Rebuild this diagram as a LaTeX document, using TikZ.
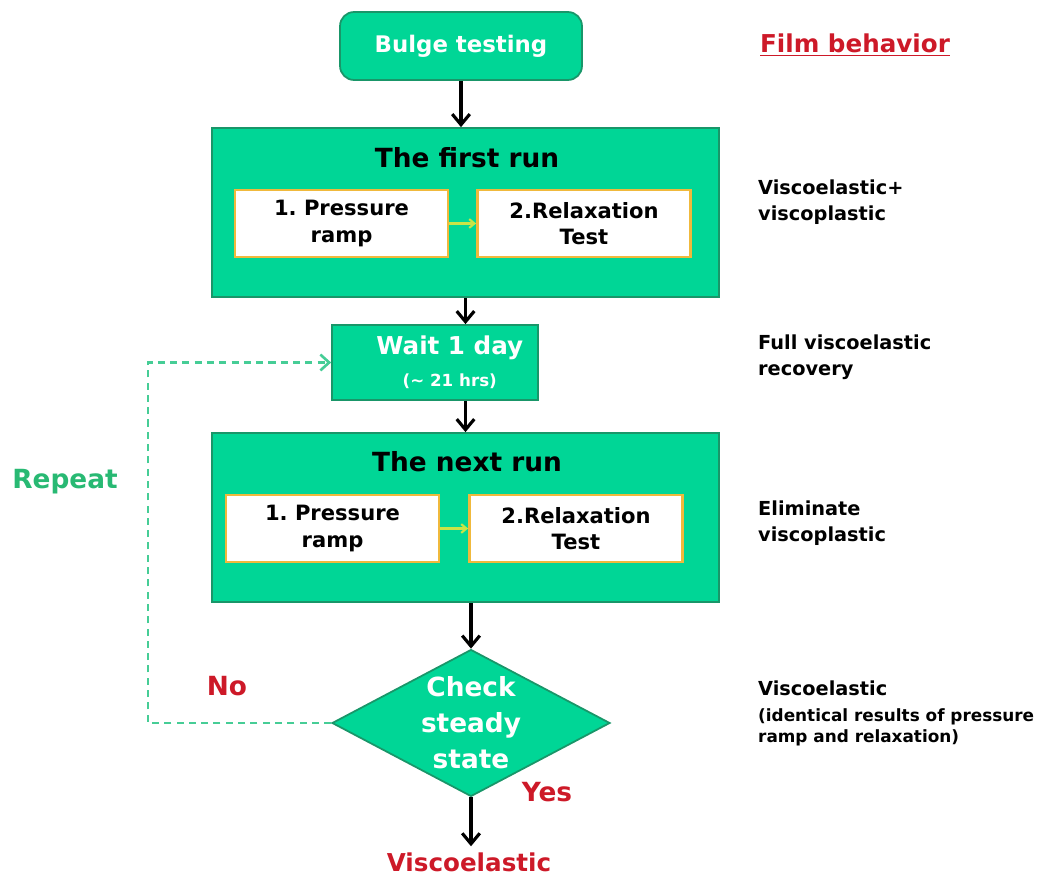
\documentclass[tikz,border=0pt]{standalone}
\usepackage{fontspec}
\setmainfont{DejaVu Sans}
\usetikzlibrary{shapes.geometric,arrows.meta}
\definecolor{boxgreen}{RGB}{0,214,150}
\definecolor{edgegreen}{RGB}{25,150,105}
\definecolor{loopgreen}{RGB}{70,205,150}
\definecolor{repeatgreen}{RGB}{40,185,115}
\definecolor{labelred}{RGB}{205,25,40}
\definecolor{rimorange}{RGB}{240,185,60}
\definecolor{stepyellow}{RGB}{200,228,70}
\frenchspacing

\begin{document}
\begin{tikzpicture}[
    x=0.02cm, y=-0.02cm,
    font=\bfseries,
    stage/.style={rectangle, draw=edgegreen, line width=1pt, fill=boxgreen, text=white, align=center},
    runbox/.style={stage, minimum width=10.14cm, minimum height=3.38cm},
    stepbox/.style={rectangle, draw=rimorange, line width=1.6pt, fill=white, minimum width=4.26cm, minimum height=1.34cm, align=center, inner sep=1pt, font=\fontsize{12}{15}\selectfont\bfseries},
    decision/.style={diamond, draw=edgegreen, line width=1pt, fill=boxgreen, minimum width=5.56cm, minimum height=2.94cm, inner sep=0pt},
    title/.style={font=\fontsize{15}{17}\selectfont\bfseries},
    behavior/.style={anchor=west, align=left, font=\fontsize{11}{15}\selectfont\bfseries},
    answer/.style={text=labelred, font=\fontsize{15}{17}\selectfont\bfseries},
    arrow/.style={-{Straight Barb[length=6pt,width=10pt]}, line width=1.8pt, black},
    steparrow/.style={-{Straight Barb[length=3pt,width=5pt]}, line width=1.2pt, stepyellow},
    loopline/.style={-{Straight Barb[length=5pt,width=9pt]}, line width=1.5pt, loopgreen, dash pattern=on 4pt off 3pt}
]
    \useasboundingbox (0,0) rectangle (1062,878);

    % main column
    \node[stage, rounded corners=8pt, minimum width=4.84cm, minimum height=1.36cm,
          font=\fontsize{13}{15}\selectfont\bfseries] (bulge) at (461,46) {Bulge testing};

    \node[runbox] (firstrun) at (465.5,212.5) {};
    \node[title] (firsttitle) at (467,158) {The first run};
    \node[stepbox] (ramp1) at (341.5,223.5) {1. Pressure\\ramp};
    \node[stepbox] (relax1) at (584,223.5) {2.Relaxation\\Test};

    \node[stage, minimum width=4.12cm, minimum height=1.5cm, font=\fontsize{14}{16}\selectfont\bfseries] (wait) at (435,362.5)
        {\hspace*{1.2em}Wait 1 day\\[2pt]\hspace*{1.2em}{\fontsize{9.5}{10}\selectfont(\textasciitilde{} 21 hrs)}};

    \node[runbox] (nextrun) at (465.5,517.5) {};
    \node[title] (nexttitle) at (467,462) {The next run};
    \node[stepbox] (ramp2) at (332.5,528.5) {1. Pressure\\ramp};
    \node[stepbox] (relax2) at (576,528.5) {2.Relaxation\\Test};

    \node[decision] (check) at (471,723) {};
    \node[text=white, align=center, font=\fontsize{15}{20.5}\selectfont\bfseries] (checktext) at (check) {Check\\steady\\state};

    \node[text=labelred, font=\fontsize{14}{16}\selectfont\bfseries] (result) at (469,862) {Viscoelastic};

    % connectors
    \draw[arrow] (bulge.south) -- (bulge.south |- firstrun.north);
    \draw[steparrow] (ramp1.east) -- (relax1.west);
    \draw[arrow] (firstrun.south) -- (firstrun.south |- wait.north);
    \draw[arrow] (nextrun.north |- wait.south) -- (nextrun.north);
    \draw[steparrow] (ramp2.east) -- (relax2.west);
    \draw[arrow] (check.north |- nextrun.south) -- (check.north);
    \draw[arrow] (check.south) -- (check.south |- result.north);

    % repeat loop
    \coordinate (loopx) at (148,540);
    \draw[loopline] (check.west) -| (loopx) |- (wait.west);
    \node[text=repeatgreen, font=\fontsize{15}{17}\selectfont\bfseries] (repeat) at (65,482) {Repeat};
    \node[answer] (no) at (227,686) {No};
    \node[answer] (yes) at (547,792) {Yes};

    % film behavior column
    \node[text=labelred, font=\fontsize{14}{16}\selectfont\bfseries] (film) at (855,45) {\underline{Film behavior}};
    \node[behavior] (beh1) at (752,202) {Viscoelastic+\\viscoplastic};
    \node[behavior] (beh2) at (752,357) {Full viscoelastic\\recovery};
    \node[behavior] (beh3) at (752,523) {Eliminate\\viscoplastic};
    \node[behavior] (beh4) at (752,688) {Viscoelastic};
    \node[anchor=north west, align=left, font=\fontsize{9.6}{12.5}\selectfont\bfseries] (beh4note) at (752,702)
        {(identical results of pressure\\ramp and relaxation)};
\end{tikzpicture}
\end{document}
